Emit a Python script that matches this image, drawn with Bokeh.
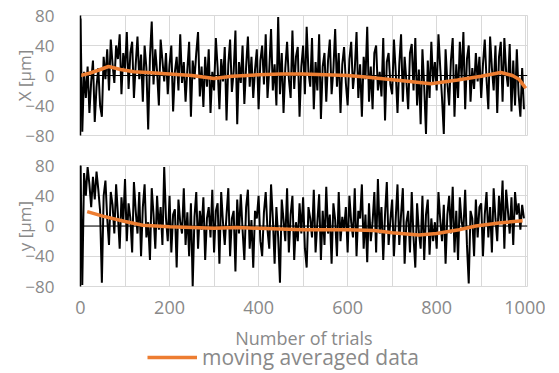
from bokeh.plotting import figure
from bokeh.layouts import column
from bokeh.models import FixedTicker, Span, Legend, LegendItem, Range1d
from bokeh.embed import file_html
from bokeh.resources import INLINE

# ---------------- data ----------------
x_raw = [
    76, -75, 5, -30, 12, -50, -8, 20, -62, -15, 10, -40, -55, 25, -5, 35, -20, 48, 15, -10, 40, 22, 55, -25, 30,
    8, 58, -18, 30, 45, -30, 15, 52, -5, 28, -35, 40, 10, -72, 25, 72, -12, 35, 5, -40, 48, 20, -8, 30, -25,
    15, 40, -48, 5, 25, -20, 55, -10, 18, -35, 8, 45, -55, 20, -5, 30, 58, -28, 12, -42, 25, -15, 35, -50, 5,
    -20, 50, 10, -45, 22, -8, 38, -60, 15, 48, -22, 5, 60, -65, 18, -10, 40, -38, 12, 52, -15, 25, -30, 8, 35,
    -45, 20, 40, -12, 55, -30, 8, 62, -20, 15, -40, 78, -25, 30, -50, 10, 45, -5, -30, 60, -18, 25, 38, -55, 12,
    40, -25, 65, 5, -15, 50, -45, 18, -20, 55, -58, 12, 30, -35, 20, 48, -25, 8, 62, -15, 30, -50, 15, 38, -10,
    -40, 22, 45, -18, 8, 58, -30, 15, -55, 25, -5, 65, -35, 12, -45, 30, 40, -20, 5, -28, 50, -60, 18, 30, -12,
    -25, 48, 5, -50, 15, 55, -35, 25, -8, -45, 30, 42, -20, 50, -40, 8, -65, 35, -15, -78, 20, -30, 45, -10, 18,
    -20, 55, 10, -30, -78, 35, -10, -40, 20, 50, -55, 15, -30, 45, -5, 58, -45, 22, 40, -35, 10, -18, 30, -8, 25,
    -30, 15, 48, -5, -45, 52, 10, -20, 40, -50, 25, 45, -35, 50, 5, -15, 42, -48, 20, -40, 35, -25, -55, 10, -45,
]

y_raw = [
    80, -78, 70, 40, 78, 55, 25, 65, 35, 72, 48, 20, -75, 40, 60, 10, -25, 45, 28, -10, 55, 15, -30, 38, 5,
    62, -20, 30, 10, -35, 58, 20, -10, 45, -40, 25, 55, -15, 5, -45, 50, 15, -30, 40, -5, 25, -25, 78, 10, -20,
    40, -35, 15, 22, -55, 35, 5, -10, 50, -25, 18, -40, 30, -80, 12, 45, -30, 20, -5, 38, -45, 10, 25, -15, 48,
    -35, 20, 30, -50, 45, 5, -25, 15, 50, -40, 10, 20, -60, 35, -10, 42, -5, -45, 25, 48, -30, 8, -55, 20, 10,
    40, -20, -40, 18, 45, -5, -30, 55, 10, -50, 25, -15, -75, 35, 8, -20, 50, -35, 15, 40, -45, 5, -20, 30, -10,
    38, -30, -55, 25, 10, -15, 48, -35, 5, 42, -45, 20, -25, 52, -10, 15, -50, 30, 8, -40, 45, -20, 12, -5, 25,
    -35, 40, 5, -15, 50, -40, 20, 10, 55, -30, 15, -48, 30, -20, 5, 45, -35, 62, -10, 25, -45, 15, 58, -25, 8,
    35, -40, 10, 55, -25, 15, 50, -50, 5, 20, -35, 45, -15, -55, 30, -8, -30, 40, -45, 15, 35, -38, 10, -20, 5,
    -30, 45, 8, -20, 28, -50, 15, 40, -10, 52, -35, 20, -45, 38, 5, -5, 48, -25, -76, 20, 10, -40, 35, -15, 25,
    30, -40, 15, 45, -15, 25, -35, 50, 10, -20, 40, 5, 60, -30, 48, 20, -10, 38, -25, 45, 15, 30, -5, 28, 10,
]

x_trials = list(range(0, 4 * len(x_raw), 4))
y_trials = list(range(0, 4 * len(y_raw), 4))

mx_trials = [0, 20, 40, 63, 90, 120, 150, 200, 250, 300, 340, 400, 450, 500, 550, 600,
             640, 690, 740, 787, 847, 900, 944, 970, 985, 1000]
mx_avg = [0, 3, 7, 12, 8, 5, 4, 2, 0, -4, -1, 1, 2, 2, 1, 0,
          -2, -5, -8, -11, -6, -1, 4, 0, -5, -17]

my_trials = [15, 50, 100, 140, 200, 250, 300, 350, 400, 450, 500, 550, 600, 660,
             700, 760, 800, 850, 888, 940, 993]
my_avg = [19, 13, 6, 1, -1, -2, -3, -2, -3, -4, -5, -5, -5, -6,
          -9, -12, -10, -5, 0, 4, 7]

y_ticks = [-80, -40, 0, 40, 80]
x_label_ticks = [0, 200, 400, 600, 800, 1000]
x_grid_ticks = [0, 100, 200, 300, 400, 500, 600, 700, 800, 900, 1000]

FONT = "Open Sans"
GREY = "#898989"
GRID = "#d9d9d9"
ORANGE = "#ED7D31"


def make_panel(size, top, bottom, tr, raw, avg_x, avg_y, ylabel):
    p = figure(width=545, output_backend="svg", toolbar_location=None,
               x_range=Range1d(0, 1004), y_range=Range1d(-80, 80),
               min_border_left=80, min_border_right=18,
               min_border_top=top, min_border_bottom=bottom, **size)
    p.outline_line_color = GRID
    p.xgrid.ticker = FixedTicker(ticks=x_grid_ticks)
    p.ygrid.ticker = FixedTicker(ticks=y_ticks)
    p.xgrid.grid_line_color = GRID
    p.ygrid.grid_line_color = GRID
    p.yaxis.ticker = FixedTicker(ticks=y_ticks)
    p.yaxis.major_tick_line_color = None
    p.yaxis.minor_tick_line_color = None
    p.yaxis.axis_line_color = "black"
    p.yaxis.axis_line_width = 1.5
    p.yaxis.major_label_text_font = FONT
    p.yaxis.major_label_text_font_size = "17px"
    p.yaxis.major_label_text_color = GREY
    p.yaxis.major_label_standoff = 20
    p.yaxis.axis_label = ylabel
    p.yaxis.axis_label_text_font = FONT
    p.yaxis.axis_label_text_font_size = "17px"
    p.yaxis.axis_label_text_font_style = "normal"
    p.yaxis.axis_label_text_color = GREY
    p.yaxis.axis_label_standoff = -14
    zero = Span(location=0, dimension="width", line_color="black", line_width=1, level="underlay")
    p.add_layout(zero)
    p.line(tr, raw, line_color="black", line_width=2)
    r = p.line(avg_x, avg_y, line_color=ORANGE, line_width=3.5)
    return p, r


p1, _ = make_panel(dict(height=150), 15, 15, x_trials, x_raw, mx_trials, mx_avg, "X [μm]")
p1.xaxis.visible = False

p2, r_avg = make_panel(dict(frame_height=121), 15, 0, y_trials, y_raw, my_trials, my_avg, "y [μm]")
p2.xaxis.ticker = FixedTicker(ticks=x_label_ticks)
p2.xaxis.major_tick_line_color = None
p2.xaxis.minor_tick_line_color = None
p2.xaxis.axis_line_color = None
p2.xaxis.major_label_text_font = FONT
p2.xaxis.major_label_text_font_size = "18px"
p2.xaxis.major_label_text_color = GREY
p2.xaxis.major_label_standoff = 8
p2.xaxis.axis_label = "Number of trials"
p2.xaxis.axis_label_text_font = FONT
p2.xaxis.axis_label_text_font_size = "18px"
p2.xaxis.axis_label_text_font_style = "normal"
p2.xaxis.axis_label_text_color = GREY
p2.xaxis.axis_label_standoff = 9

# legend strip below the x-axis title
p3 = figure(width=545, height=28, output_backend="svg", toolbar_location=None,
            min_border_left=0, min_border_right=0, min_border_top=0, min_border_bottom=0)
p3.margin = (-9, 0, 0, 0)
p3.background_fill_alpha = 0
p3.border_fill_alpha = 0
p3.axis.visible = False
p3.grid.visible = False
p3.outline_line_color = None
r_leg = p3.line(my_trials, my_avg, line_color=ORANGE, line_width=3.5)
r_leg.visible = False

legend = Legend(items=[LegendItem(label="moving averaged data", renderers=[r_leg])],
                orientation="horizontal", location=(67, 0),
                glyph_width=50, glyph_height=28, label_height=28, label_standoff=5,
                padding=0, margin=0, spacing=0,
                border_line_color=None, background_fill_alpha=0,
                inactive_fill_alpha=0,
                label_text_font=FONT, label_text_font_size="21px",
                label_text_color=GREY)
p3.add_layout(legend, "center")

layout = column(p1, p2, p3)
open("out.html", "w").write(file_html(layout, INLINE))
